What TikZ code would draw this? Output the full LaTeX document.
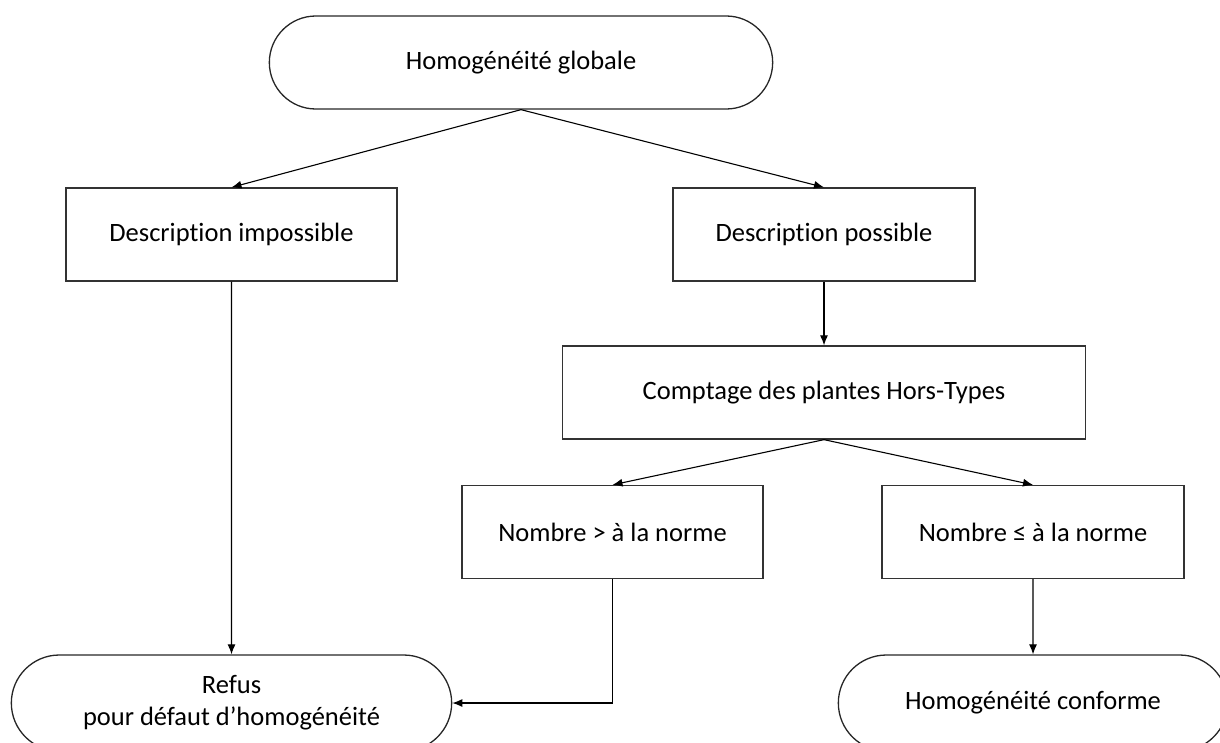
\documentclass[tikz,border=0pt]{standalone}
\usepackage{fontspec}
\setmainfont{Carlito}[Ligatures=NoCommon]
\usetikzlibrary{arrows.meta,shapes.misc}

\begin{document}
\begin{tikzpicture}[x=1pt,y=-1pt,
    font=\fontsize{26.5}{32}\selectfont,
    >={Latex[length=10pt,width=8pt]},
    box/.style={rectangle,draw=black!80,line width=1.3pt,minimum height=93pt,align=center},
    term/.style={rounded rectangle,draw=black!85,line width=1.3pt,align=center}]

        \path[use as bounding box,clip] (0,0) rectangle (1220,742);

        \node[term,minimum width=510pt,minimum height=93pt] (HG) at (521,62.5)    {Homogénéité globale};
        \node[box,minimum width=331pt]  (DI)   at (231.5,234.5)                   {Description impossible};
        \node[box,minimum width=302pt]  (DP)   at (824,234.5)                     {Description possible};
        \node[box,minimum width=523pt]  (CHT)  [node distance=158pt,below of=DP]  {Comptage des plantes Hors-Types};
        \node[box,minimum width=301pt]  (NSup) at (612.5,532)                     {Nombre > à la norme};
        \node[box,minimum width=302pt]  (NInf) at (1033,532)                      {Nombre ≤ à la norme};
        \node[term,minimum width=447pt,minimum height=96pt] (RF) [node distance=468.5pt,below of=DI] {Refus\\pour défaut d’homogénéité};
        \node[term,minimum width=396pt,minimum height=96pt] (HC) [node distance=171pt,below of=NInf] {Homogénéité conforme};

        \path[->,line width=1.1pt]
                  (HG.south)  edge (DI.north)
                              edge (DP.north)
                  (DI)        edge (RF)
                  (DP)        edge (CHT)
                  (CHT.south) edge (NSup.north)
                              edge (NInf.north)
                  (NInf)      edge (HC);
        \draw[->,line width=1.1pt] (NSup) |- (RF);
\end{tikzpicture}
\end{document}
